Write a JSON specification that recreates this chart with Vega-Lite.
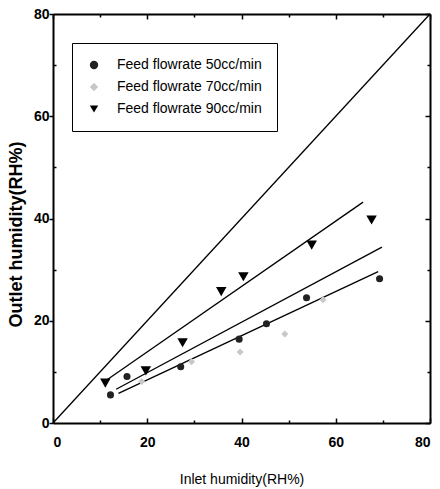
{
  "$schema": "https://vega.github.io/schema/vega-lite/v6.json",
  "width": 377,
  "height": 409,
  "autosize": "none",
  "padding": {"left": 53, "top": 14, "right": 10, "bottom": 66},
  "background": "white",
  "config": {
    "view": {"stroke": null},
    "font": "Liberation Sans",
    "axis": {"domainColor": "black", "domainWidth": 2, "tickColor": "black", "tickWidth": 1.5, "labelColor": "black", "titleColor": "black", "grid": false}
  },
  "datasets": {
    "diag": [{"x": 0, "y": 0}, {"x": 80, "y": 80}],
    "fits": [
      {"series": "50", "x": 13.9, "y": 5.8}, {"series": "50", "x": 69.0, "y": 29.6},
      {"series": "70", "x": 13.4, "y": 6.6}, {"series": "70", "x": 69.8, "y": 34.4},
      {"series": "90", "x": 11.4, "y": 8.4}, {"series": "90", "x": 65.8, "y": 43.2}
    ],
    "points": [
      {"series": "Feed flowrate 50cc/min", "x": 12.2, "y": 5.5},
      {"series": "Feed flowrate 50cc/min", "x": 15.7, "y": 9.1},
      {"series": "Feed flowrate 50cc/min", "x": 27.1, "y": 11.0},
      {"series": "Feed flowrate 50cc/min", "x": 39.5, "y": 16.4},
      {"series": "Feed flowrate 50cc/min", "x": 45.3, "y": 19.4},
      {"series": "Feed flowrate 50cc/min", "x": 53.8, "y": 24.5},
      {"series": "Feed flowrate 50cc/min", "x": 69.3, "y": 28.2},
      {"series": "Feed flowrate 70cc/min", "x": 18.8, "y": 8.1},
      {"series": "Feed flowrate 70cc/min", "x": 29.4, "y": 12.0},
      {"series": "Feed flowrate 70cc/min", "x": 39.7, "y": 13.9},
      {"series": "Feed flowrate 70cc/min", "x": 49.2, "y": 17.4},
      {"series": "Feed flowrate 70cc/min", "x": 57.3, "y": 24.1},
      {"series": "Feed flowrate 90cc/min", "x": 11.1, "y": 7.8},
      {"series": "Feed flowrate 90cc/min", "x": 19.7, "y": 10.2},
      {"series": "Feed flowrate 90cc/min", "x": 27.5, "y": 15.7},
      {"series": "Feed flowrate 90cc/min", "x": 35.7, "y": 25.7},
      {"series": "Feed flowrate 90cc/min", "x": 40.4, "y": 28.6},
      {"series": "Feed flowrate 90cc/min", "x": 54.9, "y": 34.8},
      {"series": "Feed flowrate 90cc/min", "x": 67.6, "y": 39.7}
    ]
  },
  "layer": [
    {
      "data": {"name": "diag"},
      "mark": {"type": "line", "color": "black", "strokeWidth": 1.3},
      "encoding": {
        "x": {"field": "x", "type": "quantitative", "scale": {"domain": [0, 80], "nice": false},
          "axis": {"orient": "bottom", "values": [0, 10, 20, 30, 40, 50, 60, 70, 80],
            "labelExpr": "datum.value % 20 === 0 ? datum.label : ''",
            "tickSize": {"condition": {"test": "datum.value % 20 === 0", "value": -5}, "value": -3},
            "labelPadding": 17, "labelFont": "Liberation Sans", "labelFontWeight": "bold", "labelFontSize": 14,
            "title": "Inlet humidity(RH%)", "titleFont": "Liberation Sans", "titleFontSize": 14, "titleFontWeight": "normal", "titlePadding": 23}},
        "y": {"field": "y", "type": "quantitative", "scale": {"domain": [0, 80], "nice": false},
          "axis": {"orient": "left", "values": [0, 10, 20, 30, 40, 50, 60, 70, 80],
            "labelExpr": "datum.value % 20 === 0 ? datum.label : ''",
            "tickSize": {"condition": {"test": "datum.value % 20 === 0", "value": 4}, "value": -3},
            "labelPadding": 0, "labelFont": "Liberation Sans", "labelFontWeight": "bold", "labelFontSize": 14,
            "title": "Outlet humidity(RH%)", "titleFont": "Liberation Sans", "titleFontSize": 18, "titleFontWeight": "bold",
            "titleX": -28, "titleY": 220, "titleAngle": -90, "titleBaseline": "bottom", "titleAlign": "center"}}
      }
    },
    {
      "data": {"name": "diag"},
      "mark": {"type": "point", "opacity": 0},
      "encoding": {
        "x": {"field": "x", "type": "quantitative", "scale": {"domain": [0, 80], "nice": false},
          "axis": {"orient": "top", "values": [0, 10, 20, 30, 40, 50, 60, 70, 80], "labels": false, "title": null,
            "tickSize": {"condition": {"test": "datum.value % 20 === 0", "value": -5}, "value": -3}}},
        "y": {"field": "y", "type": "quantitative", "scale": {"domain": [0, 80], "nice": false},
          "axis": {"orient": "right", "values": [0, 10, 20, 30, 40, 50, 60, 70, 80], "labels": false, "title": null,
            "tickSize": {"condition": {"test": "datum.value % 20 === 0", "value": -5}, "value": -3}}}
      }
    },
    {
      "data": {"name": "fits"},
      "mark": {"type": "line", "color": "black", "strokeWidth": 1.3},
      "encoding": {
        "x": {"field": "x", "type": "quantitative", "scale": {"domain": [0, 80], "nice": false}, "axis": null},
        "y": {"field": "y", "type": "quantitative", "scale": {"domain": [0, 80], "nice": false}, "axis": null},
        "detail": {"field": "series", "type": "nominal"}
      }
    },
    {
      "data": {"name": "points"},
      "mark": {"type": "point", "filled": true, "opacity": 1},
      "encoding": {
        "x": {"field": "x", "type": "quantitative", "scale": {"domain": [0, 80], "nice": false}, "axis": null},
        "y": {"field": "y", "type": "quantitative", "scale": {"domain": [0, 80], "nice": false}, "axis": null},
        "shape": {"field": "series", "type": "nominal",
          "scale": {"domain": ["Feed flowrate 50cc/min", "Feed flowrate 70cc/min", "Feed flowrate 90cc/min"], "range": ["circle", "diamond", "triangle-down"]},
          "legend": {"title": null, "orient": "none", "legendX": 19, "legendY": 29, "padding": 15, "fillColor": "white", "strokeColor": "black",
            "labelFontSize": 14, "labelColor": "black", "labelOffset": 16, "rowPadding": 8, "symbolSize": 70, "labelLimit": 300}},
        "color": {"field": "series", "type": "nominal",
          "scale": {"domain": ["Feed flowrate 50cc/min", "Feed flowrate 70cc/min", "Feed flowrate 90cc/min"], "range": ["#222222", "#c8c8c8", "#000000"]}},
        "size": {"condition": {"test": "datum.series === 'Feed flowrate 90cc/min'", "value": 110}, "value": 50}
      }
    }
  ],
  "resolve": {"axis": {"x": "independent", "y": "independent"}}
}
